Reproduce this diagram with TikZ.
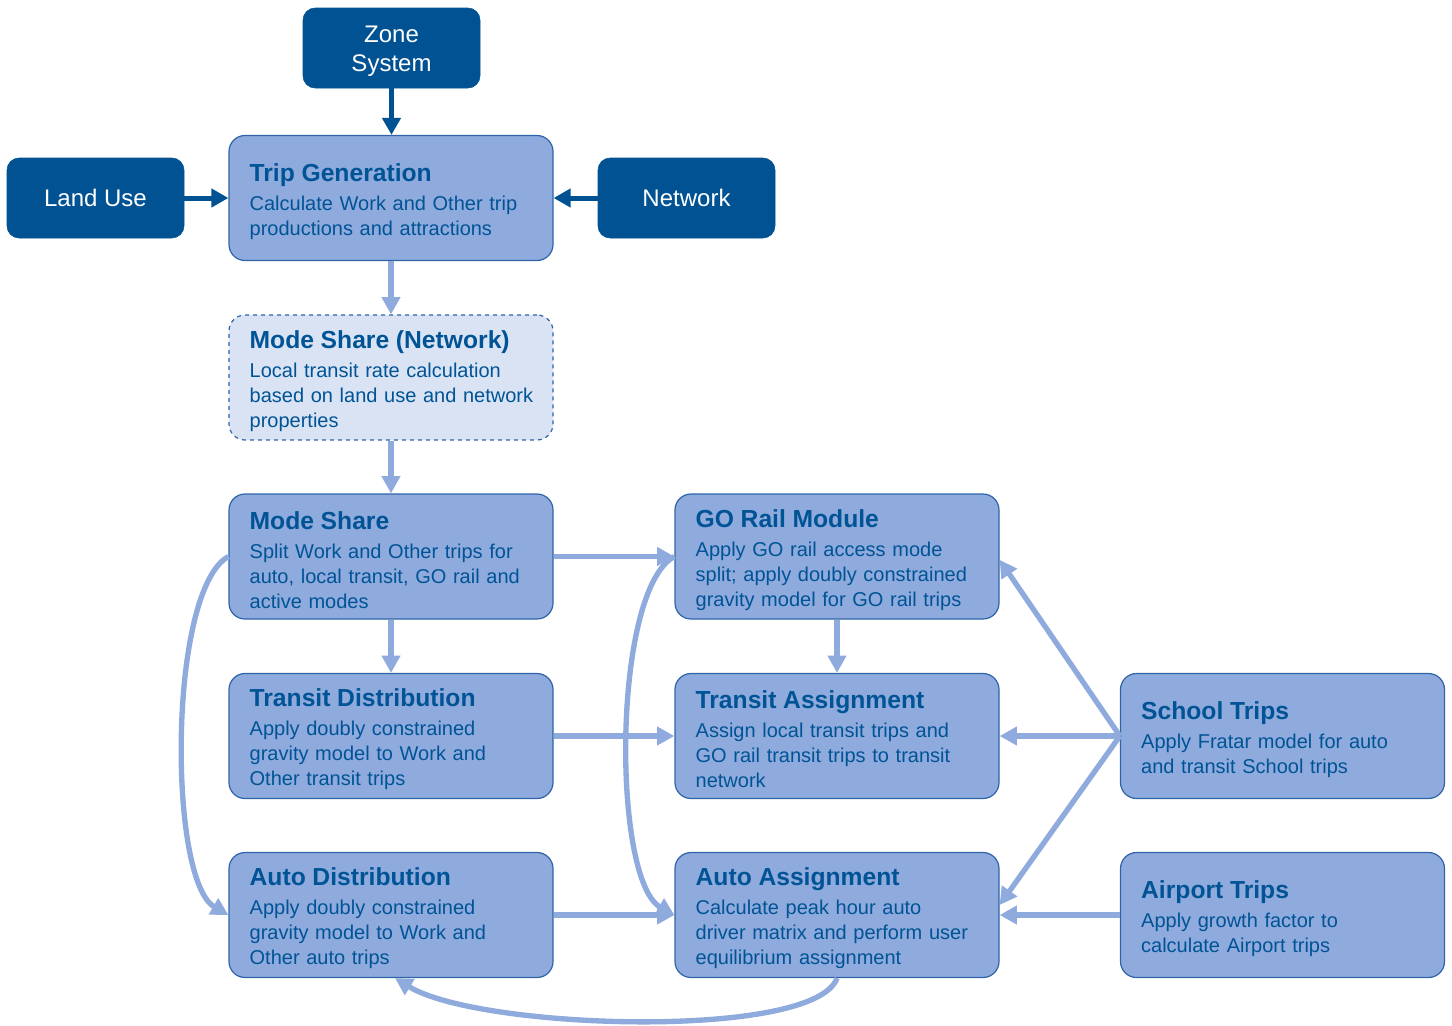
\documentclass[tikz,border=0pt]{standalone}
\usepackage{fontspec}
\setmainfont{Liberation Sans}
\usetikzlibrary{arrows.meta}
\definecolor{dk}{RGB}{0,82,147}
\definecolor{lf}{RGB}{143,170,220}
\definecolor{lb}{RGB}{47,100,170}
\definecolor{df}{RGB}{218,227,243}
\definecolor{tc}{RGB}{0,84,150}
\newcommand\ttl[1]{{\fontsize{18.5}{21}\selectfont\bfseries #1}\\[3pt]}
\begin{document}
\begin{tikzpicture}[x=0.75pt,y=-0.75pt,
  darkbox/.style={fill=dk, draw=dk, rounded corners=9pt, minimum width=132.75pt, minimum height=60pt,
    text=white, font=\fontsize{18}{21.75}\selectfont, align=center, inner sep=0},
  lbox/.style={fill=lf, draw=lb, line width=0.9pt, rounded corners=12pt, minimum width=243pt,
    minimum height=93.75pt, inner sep=0},
  dbox/.style={lbox, fill=df, dashed},
  txt/.style={anchor=west, xshift=15.75pt, yshift=-2.5pt, text width=232pt, align=left, inner sep=0, text=tc,
    font=\fontsize{15}{18.75}\selectfont},
  darr/.style={draw=dk, line width=3.75pt, -{Triangle[length=12.75pt,width=13.5pt]}},
  larr/.style={draw=lf, line width=4pt, -{Triangle[length=13pt,width=13.5pt]}}
]
\useasboundingbox (0,0) rectangle (1452,1025);

% dark input boxes
\node[darkbox] (zone) at (391.5,48) {};
\node[text=white, font=\fontsize{18}{21.75}\selectfont, align=center, inner sep=0, yshift=-2.5pt] (zonet) at (zone.center) {Zone\\System};
\node[darkbox] (land) at (95.5,198) {Land Use};
\node[darkbox] (net) at (686.5,198) {Network};

% process boxes
\node[lbox] (tg) at (391,198) {};
\node[txt] (tgt) at (tg.west) {\ttl{Trip Generation}Calculate Work and Other trip\\productions and attractions};

\node[dbox] (msn) at (391,377.5) {};
\node[txt] (msnt) at (msn.west) {\ttl{Mode Share (Network)}Local transit rate calculation\\based on land use and network\\properties};

\node[lbox] (ms) at (391,556.5) {};
\node[txt] (mst) at (ms.west) {\ttl{Mode Share}Split Work and Other trips for\\auto, local transit, GO rail and\\active modes};

\node[lbox] (td) at (391,736) {};
\node[txt] (tdt) at (td.west) {\ttl{Transit Distribution}Apply doubly constrained\\gravity model to Work and\\Other transit trips};

\node[lbox] (ad) at (391,915) {};
\node[txt] (adt) at (ad.west) {\ttl{Auto Distribution}Apply doubly constrained\\gravity model to Work and\\Other auto trips};

\node[lbox] (go) at (837,556.5) {};
\node[txt] (got) at (go.west) {\ttl{GO Rail Module}Apply GO rail access mode\\split; apply doubly constrained\\gravity model for GO rail trips};

\node[lbox] (ta) at (837,736) {};
\node[txt] (tat) at (ta.west) {\ttl{Transit Assignment}Assign local transit trips and\\GO rail transit trips to transit\\network};

\node[lbox] (aa) at (837,915) {};
\node[txt] (aat) at (aa.west) {\ttl{Auto Assignment}Calculate peak hour auto\\driver matrix and perform user\\equilibrium assignment};

\node[lbox] (school) at (1282.5,736) {};
\node[txt] (schoolt) at (school.west) {\ttl{School Trips}Apply Fratar model for auto\\and transit School trips};

\node[lbox] (air) at (1282.5,915) {};
\node[txt] (airt) at (air.west) {\ttl{Airport Trips}Apply growth factor to\\calculate Airport trips};

% dark connectors
\draw[darr] (zone.south) -- (zone.south |- tg.north);
\draw[darr] (land.east) -- (tg.west);
\draw[darr] (net.west) -- (tg.east);

% light connectors
\draw[larr] (tg.south) -- (msn.north);
\draw[larr] (msn.south) -- (ms.north);
\draw[larr] (ms.south) -- (td.north);
\draw[larr] (ms.east) -- (go.west);
\draw[larr] (td.east) -- (ta.west);
\draw[larr] (ad.east) -- (aa.west);
\draw[larr] (go.south) -- (ta.north);
\draw[larr] (school.west) -- ([yshift=-2.5pt]go.east);
\draw[larr] (school.west) -- (ta.east);
\draw[larr] (school.west) -- ([yshift=7.5pt]aa.east);
\draw[larr] (air.west) -- (aa.east);

% curved connectors
\draw[larr] (ms.west) .. controls (168,590) and (168,880) .. (ad.west);
\draw[larr] (go.west) .. controls (612,590) and (612,880) .. (aa.west);
\draw[larr] (aa.south) .. controls (815,1040) and (480,1030) .. ([xshift=3pt]ad.south);
\end{tikzpicture}
\end{document}
